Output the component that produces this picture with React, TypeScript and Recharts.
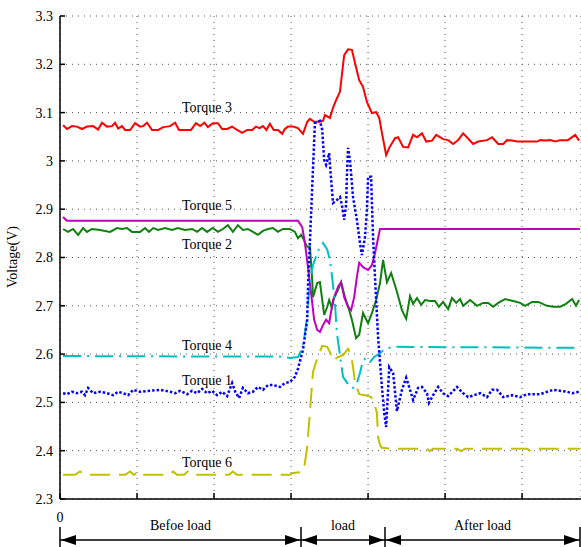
import React from 'react';
import { LineChart, Line, XAxis, YAxis, CartesianGrid } from 'recharts';

// time samples (grid every 20) vs voltage
const torque3: [number, number][] = [
  [0.8, 3.074], [1.8, 3.066], [3.1, 3.072], [4.4, 3.071], [5.7, 3.066], [7.0, 3.071], [8.6, 3.072],
  [9.9, 3.065], [10.9, 3.079], [12.2, 3.071], [13.5, 3.072], [14.3, 3.079], [15.1, 3.067], [16.1, 3.072],
  [16.9, 3.064], [18.2, 3.064], [19.5, 3.078], [20.8, 3.071], [21.6, 3.072], [22.6, 3.079], [23.9, 3.064],
  [25.5, 3.064], [26.8, 3.070], [28.6, 3.072], [29.9, 3.079], [30.9, 3.064], [32.5, 3.064], [34.0, 3.064],
  [35.3, 3.078], [36.4, 3.072], [37.5, 3.079], [38.4, 3.070], [39.7, 3.078], [41.0, 3.078], [42.1, 3.066],
  [43.4, 3.066], [44.7, 3.071], [46.0, 3.064], [47.3, 3.058], [48.6, 3.064], [49.9, 3.064], [50.9, 3.071],
  [51.8, 3.068], [52.7, 3.072], [53.6, 3.064], [54.5, 3.077], [55.5, 3.064], [56.6, 3.064], [57.7, 3.056],
  [58.4, 3.066], [59.2, 3.071], [60.5, 3.071], [61.8, 3.068], [63.1, 3.056], [64.2, 3.081], [64.9, 3.087],
  [66.0, 3.081], [67.3, 3.081], [68.3, 3.083], [68.8, 3.095], [70.1, 3.089], [70.9, 3.110], [71.7, 3.126],
  [72.7, 3.143], [73.8, 3.219], [74.8, 3.231], [75.8, 3.230], [76.6, 3.203], [77.7, 3.167], [78.7, 3.153],
  [79.7, 3.122], [81.0, 3.099], [82.1, 3.101], [82.9, 3.089], [83.6, 3.058], [84.7, 3.012], [85.5, 3.027],
  [87.0, 3.047], [87.8, 3.049], [89.1, 3.029], [90.4, 3.028], [91.7, 3.054], [92.7, 3.049], [94.0, 3.057],
  [95.1, 3.040], [96.6, 3.042], [97.7, 3.054], [99.5, 3.045], [100.8, 3.043], [102.1, 3.035], [103.4, 3.043],
  [104.7, 3.057], [107.3, 3.035], [108.6, 3.040], [110.9, 3.043], [112.2, 3.049], [113.8, 3.035], [115.1, 3.035],
  [116.1, 3.043], [117.4, 3.042], [118.7, 3.040], [123.9, 3.040], [124.7, 3.043], [126.0, 3.042], [127.3, 3.043],
  [128.6, 3.040], [129.9, 3.043], [131.9, 3.043], [133.8, 3.054], [134.8, 3.042],
];

const torque5: [number, number][] = [
  [0.8, 2.884], [1.8, 2.876], [61.8, 2.876], [62.9, 2.863], [63.6, 2.830], [64.4, 2.780], [65.5, 2.706],
  [66.0, 2.671], [66.8, 2.650], [67.5, 2.646], [68.3, 2.660], [69.1, 2.671], [69.9, 2.664], [70.9, 2.712],
  [72.2, 2.739], [73.0, 2.749], [73.8, 2.718], [74.8, 2.698], [75.6, 2.691], [76.4, 2.718], [77.1, 2.760],
  [77.7, 2.789], [78.7, 2.780], [80.0, 2.774], [81.0, 2.784], [81.8, 2.809], [82.6, 2.840], [83.1, 2.859],
  [135, 2.859],
];

const torque2: [number, number][] = [
  [0.8, 2.859], [2.1, 2.853], [3.4, 2.859], [4.7, 2.847], [6.0, 2.861], [7.0, 2.853], [8.3, 2.859],
  [10.4, 2.857], [13.0, 2.853], [14.8, 2.861], [16.1, 2.859], [17.4, 2.861], [18.7, 2.853], [20.8, 2.853],
  [22.1, 2.861], [23.1, 2.853], [24.2, 2.861], [25.5, 2.857], [27.3, 2.861], [29.1, 2.857], [30.6, 2.861],
  [32.5, 2.857], [34.3, 2.859], [35.6, 2.853], [36.9, 2.861], [38.2, 2.853], [39.7, 2.861], [41.0, 2.853],
  [42.3, 2.859], [43.6, 2.867], [44.9, 2.853], [46.2, 2.867], [47.5, 2.857], [48.8, 2.859], [50.1, 2.853],
  [51.4, 2.847], [52.7, 2.855], [54.0, 2.859], [55.3, 2.861], [56.6, 2.853], [57.9, 2.859], [59.7, 2.859],
  [61.0, 2.853], [61.8, 2.840], [62.6, 2.847], [63.1, 2.840], [64.2, 2.822], [64.9, 2.822], [65.2, 2.789],
  [65.5, 2.753], [65.7, 2.718], [66.8, 2.747], [67.5, 2.749], [68.6, 2.681], [69.4, 2.698], [69.9, 2.712],
  [70.6, 2.696], [71.2, 2.716], [72.2, 2.733], [73.0, 2.749], [74.0, 2.718], [75.1, 2.691], [75.8, 2.671],
  [76.9, 2.633], [77.7, 2.640], [78.7, 2.685], [80.0, 2.664], [81.0, 2.685], [82.1, 2.712], [83.1, 2.747],
  [83.9, 2.795], [84.9, 2.749], [86.0, 2.768], [87.5, 2.729], [88.8, 2.691], [89.9, 2.673], [90.9, 2.720],
  [91.7, 2.704], [92.7, 2.716], [93.8, 2.702], [94.8, 2.712], [96.1, 2.710], [97.4, 2.710], [98.4, 2.698],
  [99.5, 2.708], [100.8, 2.693], [101.8, 2.716], [102.9, 2.706], [103.9, 2.714], [104.7, 2.700], [106.5, 2.712],
  [108.3, 2.700], [109.9, 2.706], [111.2, 2.706], [112.5, 2.698], [113.8, 2.706], [115.6, 2.714], [117.7, 2.710],
  [119.5, 2.706], [120.8, 2.700], [122.6, 2.708], [124.2, 2.708], [126.5, 2.700], [128.1, 2.698], [129.9, 2.698],
  [131.4, 2.704], [133.0, 2.714], [134.0, 2.700], [134.8, 2.712],
];

const torque4: [number, number][] = [
  [0.8, 2.596], [40, 2.595], [57, 2.595], [59.7, 2.592], [61.8, 2.594], [63.1, 2.615], [64.2, 2.677],
  [64.9, 2.753], [65.7, 2.784], [66.8, 2.809], [67.5, 2.822], [68.3, 2.830], [69.4, 2.816], [70.1, 2.795],
  [70.6, 2.764], [71.4, 2.706], [71.9, 2.644], [73.5, 2.553], [75.3, 2.532], [76.1, 2.530], [77.1, 2.540],
  [77.9, 2.561], [78.7, 2.588], [79.7, 2.592], [80.5, 2.584], [81.6, 2.594], [83.1, 2.602], [84.4, 2.611],
  [86.5, 2.615], [135, 2.613],
];

const torque1: [number, number][] = [
  [0.8, 2.519], [1.8, 2.517], [3.1, 2.522], [4.4, 2.519], [5.7, 2.522], [6.5, 2.515], [7.3, 2.530],
  [8.6, 2.519], [10.4, 2.522], [12.2, 2.519], [13.8, 2.515], [15.1, 2.522], [16.4, 2.519], [17.7, 2.515],
  [19.0, 2.526], [20.8, 2.522], [23.4, 2.524], [26.0, 2.526], [28.6, 2.522], [29.9, 2.519], [31.2, 2.524],
  [33.0, 2.517], [34.3, 2.524], [35.6, 2.519], [36.9, 2.528], [38.2, 2.519], [39.5, 2.524], [40.8, 2.515],
  [42.1, 2.522], [43.4, 2.513], [44.7, 2.540], [45.5, 2.522], [46.5, 2.509], [47.5, 2.530], [48.8, 2.519],
  [50.1, 2.522], [51.4, 2.532], [52.7, 2.526], [54.0, 2.536], [55.3, 2.536], [57.1, 2.532], [58.4, 2.540],
  [59.7, 2.542], [61.0, 2.553], [61.8, 2.570], [63.1, 2.609], [64.2, 2.671], [64.4, 2.739], [66.2, 3.078],
  [66.8, 3.081], [67.5, 3.083], [68.1, 3.064], [68.6, 3.002], [69.1, 2.992], [69.6, 3.006], [69.9, 3.016],
  [70.1, 2.992], [70.9, 2.913], [71.9, 2.919], [72.7, 2.925], [73.2, 2.909], [73.8, 2.878], [74.3, 2.909],
  [74.5, 2.967], [74.8, 3.027], [75.3, 3.002], [76.1, 2.925], [77.1, 2.878], [77.9, 2.830], [78.4, 2.805],
  [79.2, 2.842], [79.7, 2.898], [80.0, 2.967], [80.8, 2.967], [81.0, 2.913], [81.3, 2.842], [81.8, 2.760],
  [82.6, 2.635], [83.6, 2.532], [84.2, 2.478], [84.7, 2.449], [85.5, 2.573], [86.5, 2.561], [87.5, 2.482],
  [88.8, 2.526], [89.9, 2.551], [90.9, 2.526], [91.7, 2.505], [93.0, 2.530], [94.0, 2.532], [95.3, 2.519],
  [95.8, 2.499], [96.9, 2.515], [98.2, 2.532], [99.5, 2.519], [100.8, 2.513], [103.1, 2.532], [104.7, 2.519],
  [106.0, 2.511], [109.1, 2.519], [110.9, 2.511], [112.2, 2.526], [113.5, 2.526], [115.1, 2.511], [117.4, 2.515],
  [119.5, 2.511], [121.3, 2.517], [124.7, 2.517], [126.5, 2.522], [128.1, 2.526], [131.7, 2.522], [133.0, 2.519],
  [134.8, 2.522],
];

const torque6: [number, number][] = [
  [0.8, 2.350], [3.9, 2.350], [5.2, 2.357], [6.5, 2.350], [16.9, 2.350], [18.2, 2.357], [19.2, 2.350],
  [20.3, 2.357], [21.3, 2.350], [28.3, 2.350], [29.4, 2.357], [30.4, 2.350], [32.2, 2.350], [33.2, 2.357],
  [34.2, 2.350], [43.9, 2.350], [44.9, 2.357], [45.9, 2.350], [59.7, 2.350], [60.5, 2.354], [62.9, 2.356],
  [63.4, 2.364], [64.2, 2.408], [64.9, 2.480], [65.7, 2.563], [67.0, 2.596], [68.1, 2.617], [69.4, 2.615],
  [70.1, 2.604], [70.9, 2.586], [72.2, 2.594], [73.5, 2.598], [74.8, 2.611], [75.6, 2.598], [76.1, 2.573],
  [76.6, 2.542], [77.7, 2.517], [79.2, 2.515], [80.8, 2.511], [81.6, 2.499], [82.3, 2.478], [82.6, 2.428],
  [83.1, 2.412], [83.6, 2.406], [86.2, 2.404], [95.3, 2.404], [96.0, 2.399], [96.9, 2.404], [103.1, 2.404],
  [104.2, 2.399], [105.2, 2.404], [121.3, 2.404], [122.3, 2.399], [123.4, 2.404], [135, 2.404],
];

const xTicks = [0, 20, 40, 60, 80, 100, 120];
const yTicks = [2.3, 2.4, 2.5, 2.6, 2.7, 2.8, 2.9, 3.0, 3.1, 3.2, 3.3];

const seriesLabels = [
  { name: 'Torque 3', y: 112 },
  { name: 'Torque 5', y: 210 },
  { name: 'Torque 2', y: 249 },
  { name: 'Torque 4', y: 350 },
  { name: 'Torque 1', y: 385 },
  { name: 'Torque 6', y: 467 },
];

const phases = [
  { name: 'Befoe load', from: 60, to: 301 },
  { name: 'load', from: 301, to: 385 },
  { name: 'After load', from: 385, to: 580 },
];

const FONT = '"Liberation Serif", "Times New Roman", serif';

const toPts = (arr: [number, number][]) => arr.map(([t, v]) => ({ t, v }));

function PhaseArrow({ from, to, name }: { from: number; to: number; name: string }) {
  const y = 540;
  return (
    <g>
      <line x1={from} x2={to} y1={y} y2={y} stroke="#000" strokeWidth={1.5} />
      <polygon points={`${from + 1},${y} ${from + 16},${y - 5} ${from + 16},${y + 5}`} fill="#000" />
      <polygon points={`${to - 1},${y} ${to - 16},${y - 5} ${to - 16},${y + 5}`} fill="#000" />
      <text x={(from + to) / 2} y={530} textAnchor="middle" fontSize={14} fontFamily={FONT} fill="#000">
        {name}
      </text>
    </g>
  );
}

export default function App() {
  const tick = { fill: '#000', fontSize: 14, fontFamily: FONT };
  const lines = [
    { key: 'Torque 3', data: torque3, color: '#ff0000', dash: undefined, w: 2 },
    { key: 'Torque 2', data: torque2, color: '#108010', dash: undefined, w: 2 },
    { key: 'Torque 5', data: torque5, color: '#c000c0', dash: undefined, w: 2 },
    { key: 'Torque 4', data: torque4, color: '#00c0c0', dash: '18 6 2 6', w: 2 },
    { key: 'Torque 6', data: torque6, color: '#c0c000', dash: '20 9', w: 2 },
    { key: 'Torque 1', data: torque1, color: '#0000ff', dash: '2.5 2', w: 2.5 },
  ];

  return (
    <div style={{ position: 'absolute', left: 0, top: 0, width: 581, height: 547, background: '#fff' }}>
      <LineChart
        width={581}
        height={547}
        margin={{ top: 16, right: 0, bottom: 0, left: 0 }}
        style={{ position: 'absolute', left: 0, top: 0 }}
      >
        <CartesianGrid stroke="#555" strokeDasharray="1 5" strokeWidth={1} />
        <XAxis
          dataKey="t"
          type="number"
          domain={[0, 135.3]}
          ticks={xTicks}
          height={48}
          allowDuplicatedCategory={false}
          stroke="#000"
          strokeWidth={1.5}
          tickSize={-6}
          tickMargin={19}
          tick={tick}
          tickFormatter={(v: number) => (v === 0 ? '0' : '')}
        />
        <XAxis
          xAxisId="top"
          orientation="top"
          type="number"
          domain={[0, 135.3]}
          ticks={xTicks}
          height={0}
          stroke="#000"
          strokeWidth={1.5}
          tickSize={-6}
          tickFormatter={() => ''}
        />
        <YAxis
          type="number"
          domain={[2.3, 3.3]}
          ticks={yTicks}
          width={60}
          stroke="#000"
          strokeWidth={1.5}
          tickSize={-5}
          tickMargin={12}
          tick={tick}
          interval={0}
          tickFormatter={(v: number) => String(Math.round(v * 10) / 10)}
        />
        {lines.map((s) => (
          <Line
            key={s.key}
            data={toPts(s.data)}
            dataKey="v"
            type="linear"
            stroke={s.color}
            strokeWidth={s.w}
            strokeDasharray={s.dash}
            dot={false}
            activeDot={false}
            isAnimationActive={false}
          />
        ))}
      </LineChart>
      <svg
        width={581}
        height={547}
        style={{ position: 'absolute', left: 0, top: 0, pointerEvents: 'none' }}
      >
        {seriesLabels.map((l) => (
          <text key={l.name} x={182} y={l.y} fontSize={14} fontFamily={FONT} fill="#000">
            {l.name}
          </text>
        ))}
        <text
          x={0}
          y={0}
          transform="translate(17,257) rotate(-90)"
          textAnchor="middle"
          fontSize={14}
          fontFamily={FONT}
          fill="#000"
        >
          Voltage(V)
        </text>
        {[60, 301, 385, 580].map((x) => (
          <line key={x} x1={x} x2={x} y1={527} y2={547} stroke="#000" strokeWidth={1.5} />
        ))}
        {phases.map((p) => (
          <PhaseArrow key={p.name} {...p} />
        ))}
      </svg>
    </div>
  );
}
